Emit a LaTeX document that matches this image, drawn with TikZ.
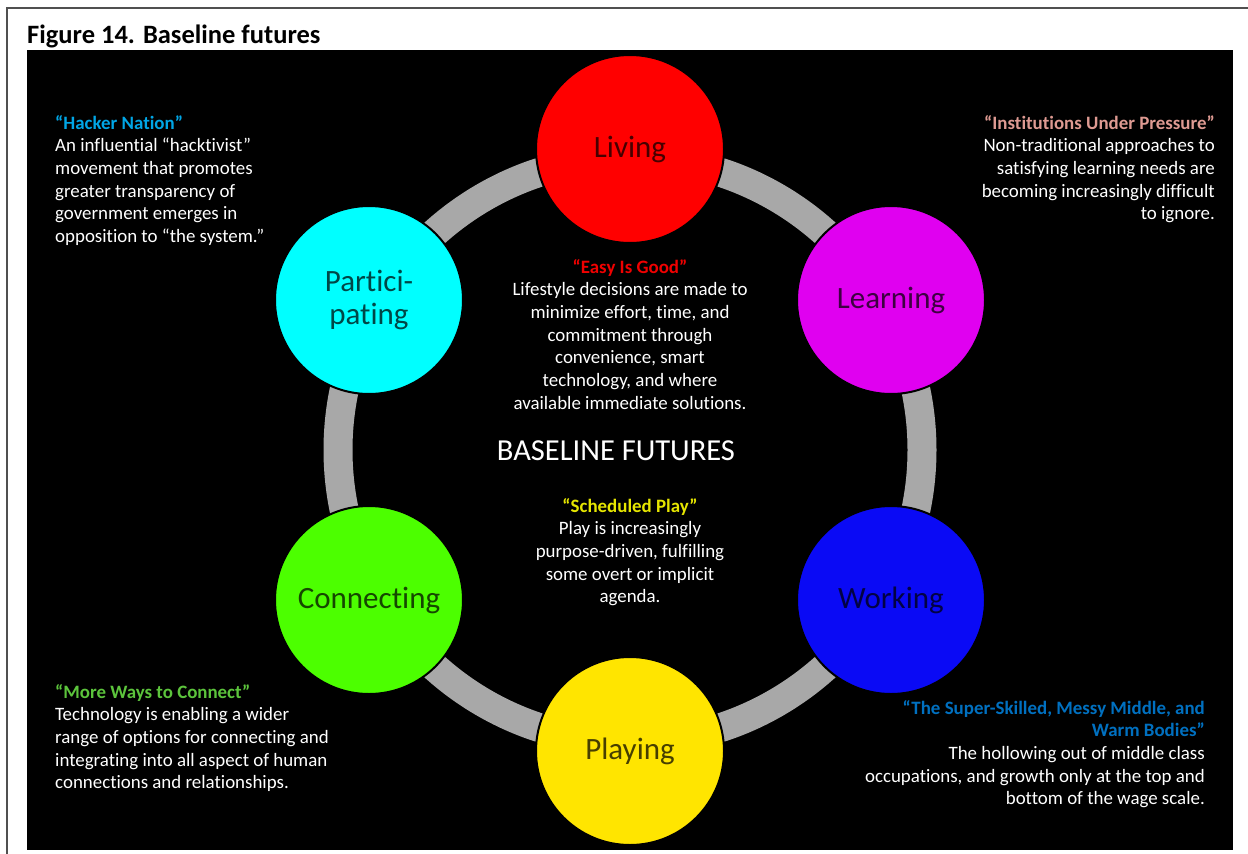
\documentclass[tikz,border=0pt]{standalone}
\usepackage{fontspec}
\setmainfont{Carlito}[Ligatures={NoCommon}]
\definecolor{framegray}{HTML}{505050}
\definecolor{ringgray}{HTML}{A8A8A8}
\definecolor{livingred}{HTML}{FF0000}
\definecolor{learnmag}{HTML}{E000F0}
\definecolor{workblue}{HTML}{0A0AF5}
\definecolor{playyellow}{HTML}{FFE500}
\definecolor{connectgreen}{HTML}{4CFF00}
\definecolor{particyan}{HTML}{00FFFF}
\definecolor{hackerblue}{HTML}{00A6E6}
\definecolor{instpink}{HTML}{DE9A92}
\definecolor{easyred}{HTML}{F00000}
\definecolor{schedyellow}{HTML}{E6E600}
\definecolor{moregreen}{HTML}{5CC43C}
\definecolor{superblue}{HTML}{0070C0}
\newcommand\bfzbody{\fontsize{18.9bp}{22.7bp}\selectfont}
\newcommand\bfzdisc{\fontsize{31bp}{33bp}\selectfont}
\begin{document}
\begin{tikzpicture}[x=1bp,y=-1bp,
  disc/.style={circle, minimum size=188bp, inner sep=0pt, draw=black, line width=2bp,
    font=\bfzdisc, text=black, text opacity=0.72, align=center},
  blurb/.style={inner sep=0pt, text=white, font=\bfzbody},
  ring/.style={draw=ringgray, line width=29bp}]
\useasboundingbox (0,0) rectangle (1248,854);
\fill[white] (0,0) rectangle (1248,854);
\draw[framegray, line width=2bp] (7,854) -- (7,8) -- (1248,8);
\node[anchor=base west, inner sep=0pt, font=\fontsize{26.5bp}{30bp}\selectfont\bfseries] (title) at (27,43) {Figure 14. Baseline futures};
\fill[black] (27,50) rectangle (1233,850);
\coordinate (hub) at (630,450);
\draw[ring] (hub) circle[radius=292];
\node[disc, fill=livingred] (living) at (630,149) {Living};
\node[disc, fill=learnmag] (learning) at (891,300) {Learning};
\node[disc, fill=workblue] (working) at (891,600) {Working};
\node[disc, fill=playyellow] (playing) at (630,751) {Playing};
\node[disc, fill=connectgreen] (connecting) at (369,600) {Connecting};
\node[disc, fill=particyan] (participating) at (369,300) {Partici-\\pating};
\node[blurb, anchor=north west, align=left] (hacker) at (55,115)
  {\textcolor{hackerblue}{\bfseries “Hacker Nation”}\\
   An influential “hacktivist”\\
   movement that promotes\\
   greater transparency of\\
   government emerges in\\
   opposition to “the system.”};
\node[blurb, anchor=north east, align=right] (institutions) at (1215,115)
  {\textcolor{instpink}{\bfseries “Institutions Under Pressure”}\\
   Non-traditional approaches to\\
   satisfying learning needs are\\
   becoming increasingly difficult\\
   to ignore.};
\node[blurb, anchor=north, align=center] (easy) at (630,259)
  {\textcolor{easyred}{\bfseries “Easy Is Good”}\\
   Lifestyle decisions are made to\\
   minimize effort, time, and\\
   commitment through\\
   convenience, smart\\
   technology, and where\\
   available immediate solutions.};
\node[inner sep=0pt, text=white, anchor=base, font=\fontsize{30.5bp}{32bp}\selectfont] (baseline) at (616,460) {BASELINE FUTURES};
\node[blurb, anchor=north, align=center] (scheduled) at (630,498)
  {\textcolor{schedyellow}{\bfseries “Scheduled Play”}\\
   Play is increasingly\\
   purpose-driven, fulfilling\\
   some overt or implicit\\
   agenda.};
\node[blurb, anchor=north west, align=left] (moreways) at (55,684)
  {\textcolor{moregreen}{\bfseries “More Ways to Connect”}\\
   Technology is enabling a wider\\
   range of options for connecting and\\
   integrating into all aspect of human\\
   connections and relationships.};
\node[blurb, anchor=north east, align=right] (superskilled) at (1205,700)
  {\textcolor{superblue}{\bfseries “The Super-Skilled, Messy Middle, and}\\
   \textcolor{superblue}{\bfseries Warm Bodies”}\\
   The hollowing out of middle class\\
   occupations, and growth only at the top and\\
   bottom of the wage scale.};
\end{tikzpicture}
\end{document}
